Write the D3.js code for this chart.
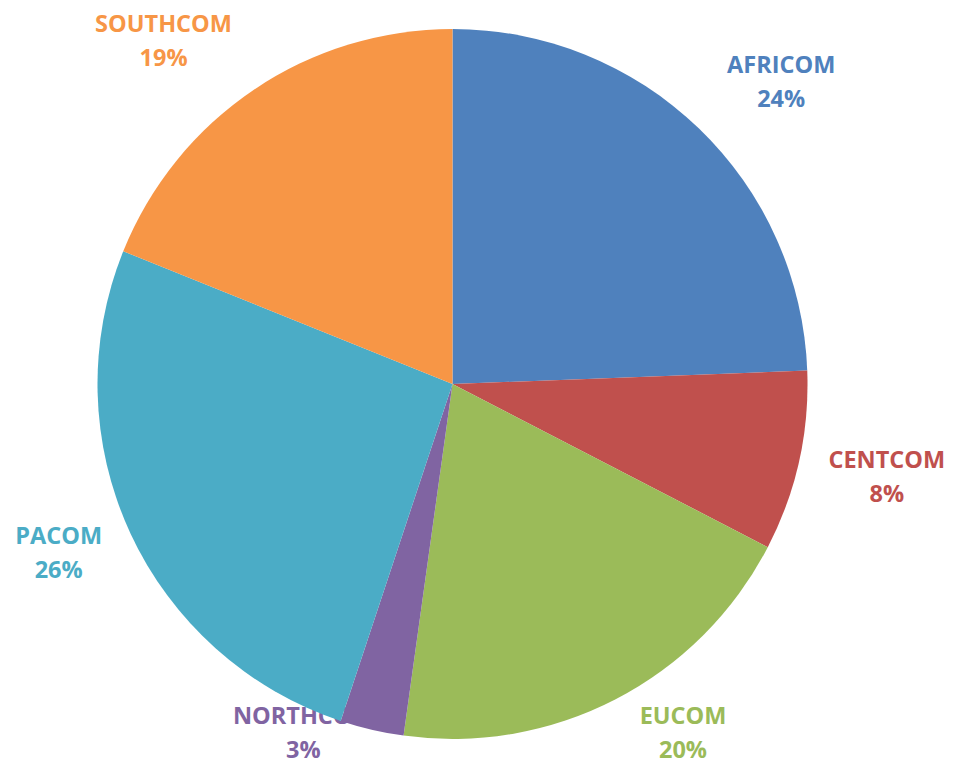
<!DOCTYPE html>
<meta charset="utf-8">
<style>
    body { margin: 0; background: #fff; }
    text.label { font-family: "Open Sans", sans-serif; font-weight: 700; font-size: 23.5px; }
</style>
<body>
<script src="https://cdn.jsdelivr.net/npm/d3@7"></script>
<script>

    // commands and their share of the total, clockwise from 12 o'clock
    var commands = ["AFRICOM", "CENTCOM", "EUCOM", "NORTHCOM", "PACOM", "SOUTHCOM"];
    var shares = [24.4, 8.2, 19.6, 2.9, 26.0, 18.9];
    var colors = ["#4F81BD", "#C0504D", "#9BBB59", "#8064A2", "#4BACC6", "#F79646"];

    var width = 953, height = 766,
        cx = 452.5, cy = 384, radius = 355;

    // nudges applied to the label block after placing it on the label arc
    var labelNudge = {
        AFRICOM: [20, 19], CENTCOM: [0, -4], EUCOM: [26, -46],
        NORTHCOM: [-48, -84], PACOM: [10, -18], SOUTHCOM: [-40, 26]
    };

    var data = commands.map(function(c, i) { return {name: c, value: shares[i], color: colors[i]}; });

    var pie = d3.pie().sort(null).value(function(d) { return d.value; });
    var arc = d3.arc().innerRadius(0).outerRadius(radius);
    var labelArc = d3.arc().innerRadius(445).outerRadius(445);

    var svg = d3.select("body").append("svg")
            .attr("width", width)
            .attr("height", height)
            .append("g")
            .attr("transform", "translate(" + cx + "," + cy + ")");

    var arcs = pie(data);

    // labels go first: the pie covers part of the NORTHCOM label
    var labels = svg.selectAll("g.lbl")
            .data(arcs)
            .enter().append("g")
            .attr("class", "lbl")
            .attr("transform", function(d) {
                var c = labelArc.centroid(d), n = labelNudge[d.data.name];
                return "translate(" + (c[0] + n[0]) + "," + (c[1] + n[1]) + ")";
            });

    labels.append("text")
            .attr("class", "label")
            .attr("text-anchor", "middle")
            .attr("y", -9)
            .style("fill", function(d) { return d.data.color; })
            .text(function(d) { return d.data.name; });

    labels.append("text")
            .attr("class", "label")
            .attr("text-anchor", "middle")
            .attr("y", 25)
            .style("fill", function(d) { return d.data.color; })
            .text(function(d) { return Math.round(d.data.value) + "%"; });

    svg.selectAll("path.slice")
            .data(arcs)
            .enter().append("path")
            .attr("class", "slice")
            .attr("d", arc)
            .style("fill", function(d) { return d.data.color; });

</script>
